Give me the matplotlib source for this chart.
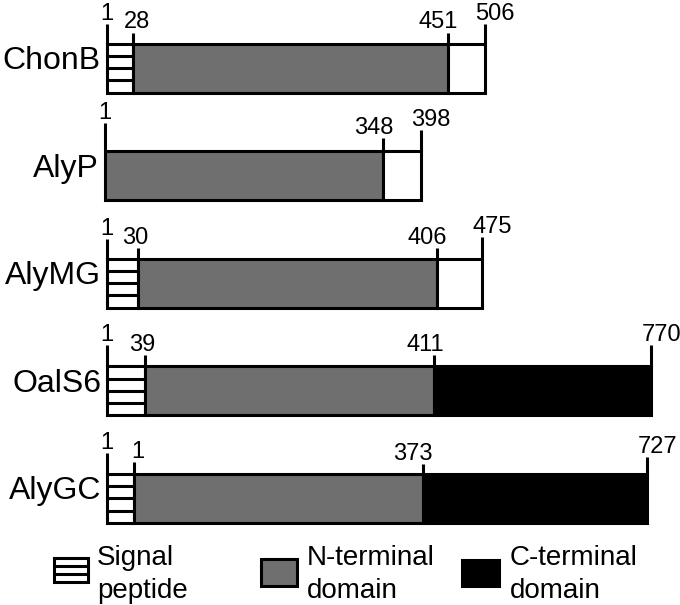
import matplotlib
matplotlib.use('Agg')
import matplotlib.pyplot as plt
from matplotlib.patches import Rectangle

plt.rcParams['font.family'] = ['Liberation Sans', 'DejaVu Sans']

# Proteinas y sus dominios (esquema, no a escala)
proteins = ['ChonB', 'AlyP', 'AlyMG', 'OalS6', 'AlyGC']
residue_labels = [
    ['1', '28', '451', '506'],
    ['1', '348', '398'],
    ['1', '30', '406', '475'],
    ['1', '39', '411', '770'],
    ['1', '1', '373', '727'],
]
# posicion dibujada de cada limite en el esquema
drawn_pos = [
    [0, 26, 341, 378],
    [-2, 276, 314],
    [0, 31, 330, 375],
    [0, 38, 327, 544],
    [0, 27, 316, 540],
]
# dominio entre limites consecutivos
domains = [
    ['signal', 'N', 'other'],
    ['N', 'other'],
    ['signal', 'N', 'other'],
    ['signal', 'N', 'C'],
    ['signal', 'N', 'C'],
]
legend_kinds = ['signal', 'N', 'C']
legend_labels = [['Signal', 'peptide'], ['N-terminal', 'domain'], ['C-terminal', 'domain']]

# lado del numero respecto a la marca y largo de las marcas
label_align = [['c', 'l', 'r', 'l'], ['c', 'r', 'l'], ['c', 'r', 'r', 'l'],
               ['c', 'r', 'r', 'l'], ['c', 'r', 'r', 'l']]
tick_len = [[20, 11, 11, 20], [28, 13, 21], [20, 11, 11, 22],
            [21, 11, 11, 21], [21, 12, 10, 17]]

fill = {'signal': 'white', 'N': '#6f6f6f', 'other': 'white', 'C': 'black'}
lw = 2.2
bar_h = 49
row_gap = 107.6
first_row = 68

fig = plt.figure(figsize=(6.8, 6.05), dpi=100)
ax = fig.add_axes([0, 0, 1, 1])
ax.set_xlim(-107, 573)
ax.set_ylim(605, 0)
ax.axis('off')


def hatch_lines(x0, x1, top, h, n):
    for k in range(1, n):
        ax.plot([x0, x1], [top + h * k / n] * 2, color='black', lw=lw,
                solid_capstyle='butt', zorder=4)


for i, name in enumerate(proteins):
    yc = first_row + i * row_gap
    top = yc - bar_h / 2
    pos = drawn_pos[i]
    for j, kind in enumerate(domains[i]):
        ax.barh(yc, pos[j + 1] - pos[j], left=pos[j], height=bar_h,
                color=fill[kind], edgecolor='black', linewidth=lw, zorder=3)
        if kind == 'signal':
            hatch_lines(pos[j], pos[j + 1], top, bar_h, 4)
    # marcas y numeros
    for j, x in enumerate(pos):
        tick = tick_len[i][j]
        ax.plot([x, x], [top, top - tick], color='black', lw=lw,
                solid_capstyle='butt', zorder=5)
        a = label_align[i][j]
        ha = {'c': 'center', 'l': 'left', 'r': 'right'}[a]
        dx = {'c': 0, 'l': -9.5, 'r': 10}[a]
        ax.text(x + dx, top - tick - 4, residue_labels[i][j], ha=ha,
                va='baseline', fontsize=17, zorder=6)
    ax.text(pos[0] - 6, yc + 1, name, ha='right', va='baseline', fontsize=23)

# leyenda
sw_x = [-53, 154, 355]
sw_w = [34, 36, 37]
sw_top = [558, 559, 560]
sw_h = [24, 27, 26]
txt_x = [-10, 200, 403]
for k, kind in enumerate(legend_kinds):
    ax.add_patch(Rectangle((sw_x[k], sw_top[k]), sw_w[k], sw_h[k],
                           facecolor=fill[kind], edgecolor='black', linewidth=lw))
    if kind == 'signal':
        hatch_lines(sw_x[k], sw_x[k] + sw_w[k], sw_top[k], sw_h[k], 3)
    for m, line in enumerate(legend_labels[k]):
        ax.text(txt_x[k], 565 + 33 * m, line, ha='left', va='baseline', fontsize=20)

fig.savefig('out.png', dpi=100)
